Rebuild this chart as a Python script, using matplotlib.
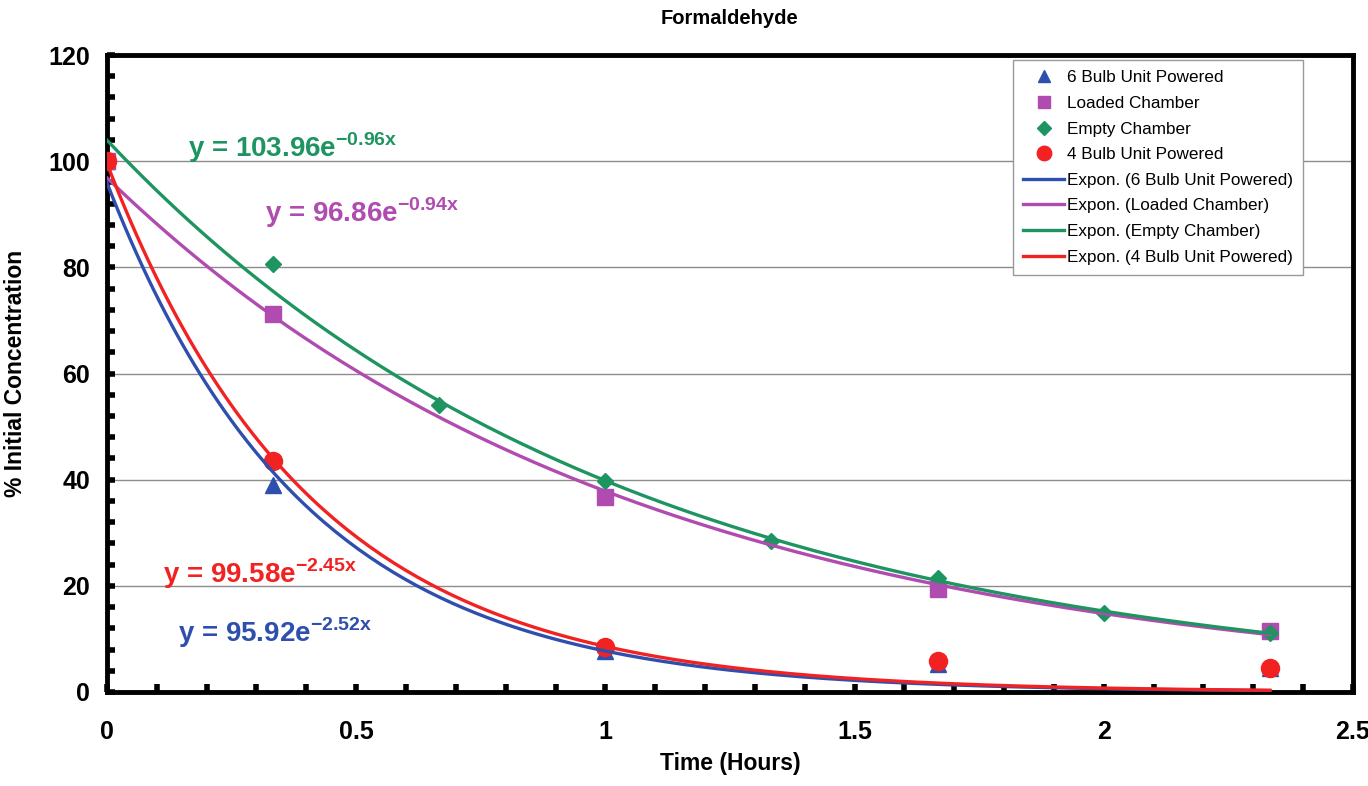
import numpy as np
import matplotlib
matplotlib.use("Agg")
import matplotlib.pyplot as plt
from matplotlib.ticker import MultipleLocator

plt.rcParams['font.family'] = ['Liberation Sans', 'DejaVu Sans']
plt.rcParams['mathtext.fontset'] = 'custom'
plt.rcParams['mathtext.rm'] = 'Liberation Sans:bold'
plt.rcParams['mathtext.bf'] = 'Liberation Sans:bold'

# sampling times in hours (every 20 minutes)
hours = [0, 1/3, 2/3, 1, 4/3, 5/3, 2, 7/3]

bulb6_x = [0, 1/3, 1, 5/3, 7/3]
bulb6_y = [100, 39, 7.8, 5.3, 4.6]

loaded_x = [0, 1/3, 1, 5/3, 7/3]
loaded_y = [100, 71.2, 36.8, 19.4, 11.5]

empty_x = hours
empty_y = [100, 80.6, 54, 39.8, 28.5, 21.5, 14.9, 11.1]

bulb4_x = [0, 1/3, 1, 5/3, 7/3]
bulb4_y = [100, 43.6, 8.5, 5.8, 4.5]

# exponential fit coefficients y = a * exp(b * x)
fit_6 = (95.92, -2.52)
fit_loaded = (96.86, -0.94)
fit_empty = (103.96, -0.96)
fit_4 = (99.58, -2.45)

c_blue = '#2f4fae'
c_mag = '#b04bb0'
c_green = '#1e9460'
c_red = '#f22222'

fig = plt.figure(figsize=(13.68, 7.86), dpi=100)
ax = fig.add_axes([0.0782, 0.1196, 0.9108, 0.8104])

ms = dict(linestyle='none', zorder=3)
ax.plot(bulb6_x, bulb6_y, marker='^', color=c_blue, markersize=11, label='6 Bulb Unit Powered', **ms)
ax.plot(loaded_x, loaded_y, marker='s', color=c_mag, markersize=11, label='Loaded Chamber', **ms)
ax.plot(empty_x, empty_y, marker='D', color=c_green, markersize=8.5, label='Empty Chamber', **ms)
ax.plot(bulb4_x, bulb4_y, marker='o', color=c_red, markersize=13, label='4 Bulb Unit Powered', **ms)

xs = np.linspace(0, 7/3, 200)
for (a, b), col, name in [(fit_6, c_blue, '6 Bulb Unit Powered'),
                          (fit_loaded, c_mag, 'Loaded Chamber'),
                          (fit_empty, c_green, 'Empty Chamber'),
                          (fit_4, c_red, '4 Bulb Unit Powered')]:
    ax.plot(xs, a * np.exp(b * xs), color=col, linewidth=2.4, zorder=4,
            label=f'Expon. ({name})')

# equation labels
eqs = [(fit_empty, c_green, 0.163, 102.5),
       (fit_loaded, c_mag, 0.318, 90.2),
       (fit_4, c_red, 0.113, 22.2),
       (fit_6, c_blue, 0.142, 11.2)]
for (a, b), col, x0, y0 in eqs:
    ax.text(x0, y0, f'y = {a:.2f}e' + r'$^{\mathbf{' + f'{b:.2f}' + r'x}}$',
            color=col, fontsize=20, fontweight='bold', va='center', ha='left', zorder=5)

ax.set_xlim(0, 2.5)
ax.set_ylim(0, 120)
ax.xaxis.set_minor_locator(MultipleLocator(0.1))
ax.yaxis.set_major_locator(MultipleLocator(20))
ax.yaxis.set_minor_locator(MultipleLocator(4))
ax.set_xticks([0, 0.5, 1, 1.5, 2, 2.5])
ax.set_xticklabels(['0', '0.5', '1', '1.5', '2', '2.5'])
ax.tick_params(which='both', direction='in', length=6, width=4, top=False, right=False)
ax.tick_params(axis='x', which='major', pad=20, labelsize=18)
ax.tick_params(axis='y', which='major', pad=12, labelsize=18)
for lab in ax.get_xticklabels() + ax.get_yticklabels():
    lab.set_fontweight('bold')

ax.grid(axis='y', which='major', color='#8c8c8c', linewidth=1)
ax.set_axisbelow(True)
for sp in ax.spines.values():
    sp.set_linewidth(3.5)

ax.set_title('Formaldehyde', fontsize=14.5, fontweight='bold', pad=22)
ax.set_xlabel('Time (Hours)', fontsize=16.5, fontweight='bold', labelpad=6)
ax.set_ylabel('% Initial Concentration', fontsize=16.5, fontweight='bold')
ax.yaxis.set_label_coords(-0.064, 0.5)

leg = ax.legend(loc='upper right', bbox_to_anchor=(0.960, 0.992), borderaxespad=0,
                fontsize=12.3, frameon=True, fancybox=False, edgecolor='#999999',
                framealpha=1, handlelength=2.4, handletextpad=0.15, labelspacing=0.62,
                borderpad=0.6, markerscale=0.8)
leg.get_frame().set_linewidth(1)

fig.savefig('out.png', dpi=100)
